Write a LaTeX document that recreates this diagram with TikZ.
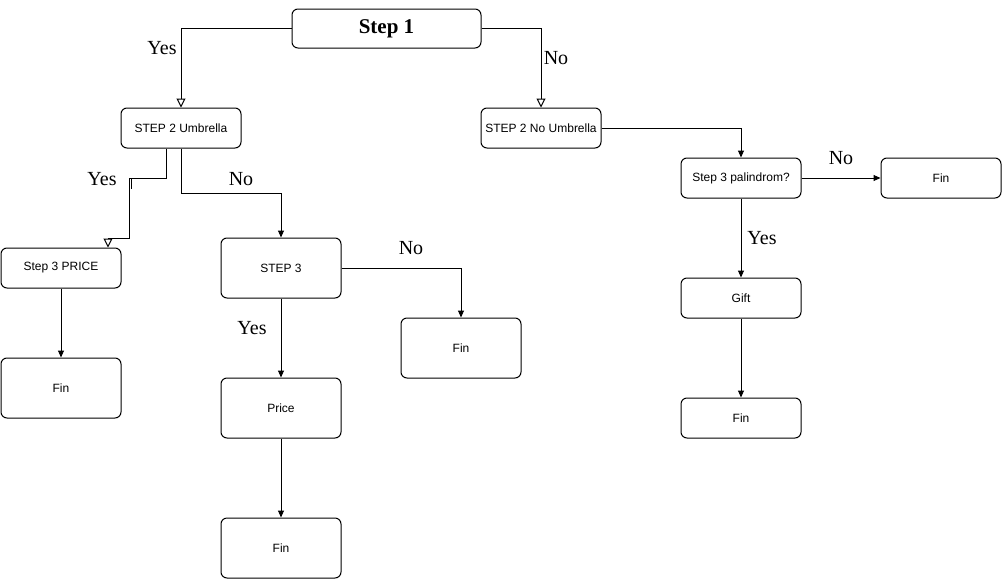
\documentclass[tikz,border=0pt]{standalone}
\usepackage{fontspec}
\setmainfont{Liberation Serif}
\newfontfamily\boxfont{Liberation Sans}
\usetikzlibrary{arrows.meta}
\begin{document}
\begin{tikzpicture}[x=1pt,y=-1pt,
  box/.style={draw,rounded corners=6pt,line width=1pt,inner sep=0pt,font=\boxfont\fontsize{12}{14}\selectfont},
  lbl/.style={font=\fontsize{20}{22}\selectfont,inner sep=0pt},
  conn/.style={line width=1pt},
  filled/.style={conn,-{Triangle[length=7pt,width=6pt]}},
  hollow/.style={conn,-{Triangle[open,length=9pt,width=9pt,fill=white]}}
]
\useasboundingbox[fill=white] (0,0) rectangle (1004,581);
\node[box,minimum width=189pt,minimum height=39pt,font=\bfseries\fontsize{21}{24}\selectfont] (s1) at (386.5,28.5) {Step 1};
\node[box,minimum width=120pt,minimum height=40pt] (s2u) at (181,128) {STEP 2 Umbrella};
\node[box,minimum width=120pt,minimum height=40pt] (s2n) at (541,128) {STEP 2 No Umbrella};
\node[box,minimum width=120pt,minimum height=40pt] (pal) at (741,178) {Step 3 palindrom?};
\node[box,minimum width=120pt,minimum height=40pt] (fin1) at (941,178) {Fin};
\node[box,minimum width=120pt,minimum height=40pt] (sp) at (61,268) {Step 3 PRICE};
\node[box,minimum width=120pt,minimum height=60pt] (s3) at (281,268) {STEP 3};
\node[box,minimum width=120pt,minimum height=60pt] (fin2) at (61,388) {Fin};
\node[box,minimum width=120pt,minimum height=60pt] (fin3) at (461,348) {Fin};
\node[box,minimum width=120pt,minimum height=60pt] (price) at (281,408) {Price};
\node[box,minimum width=120pt,minimum height=60pt] (fin4) at (281,548) {Fin};
\node[box,minimum width=120pt,minimum height=40pt] (gift) at (741,298) {Gift};
\node[box,minimum width=120pt,minimum height=40pt] (fin5) at (741,418) {Fin};

% Step 1 branches
\draw[hollow] (s1.west) -| (s2u.north);
\draw[hollow] (s1.east) -| (s2n.north);
\node[lbl] (l1) at (162,48) {Yes};
\node[lbl] (l2) at (556,58) {No};

% STEP 2 Umbrella branches
\coordinate (a1) at ([xshift=-15pt]s2u.south);
\coordinate (a2) at (166,178);
\coordinate (a3) at (129,178);
\coordinate (a4) at (129,238);
\coordinate (a5) at (108,238);
\draw[hollow] (a1) -- (a2) -- (a3) -- (a4) -- (a5) -- (a5 |- sp.north);
\coordinate (t1) at (131,179);
\coordinate (t2) at (131,189);
\draw[conn] (t1) -- (t2);
\node[lbl] (l3) at (102,179) {Yes};
\coordinate (b1) at (181,193);
\draw[filled] (s2u.south) -- (b1) -| (s3.north);
\node[lbl] (l4) at (241,179) {No};

% STEP 3 branches
\draw[filled] (s3.east) -| (fin3.north);
\node[lbl] (l5) at (411,248) {No};
\draw[filled] (s3.south) -- (price.north);
\node[lbl] (l6) at (252,328) {Yes};
\draw[filled] (price.south) -- (fin4.north);
\draw[filled] (sp.south) -- (fin2.north);

% right side
\draw[filled] (s2n.east) -| (pal.north);
\draw[filled] (pal.east) -- (fin1.west);
\node[lbl] (l7) at (841,158) {No};
\draw[filled] (pal.south) -- (gift.north);
\node[lbl] (l8) at (762,238) {Yes};
\draw[filled] (gift.south) -- (fin5.north);
\end{tikzpicture}
\end{document}
